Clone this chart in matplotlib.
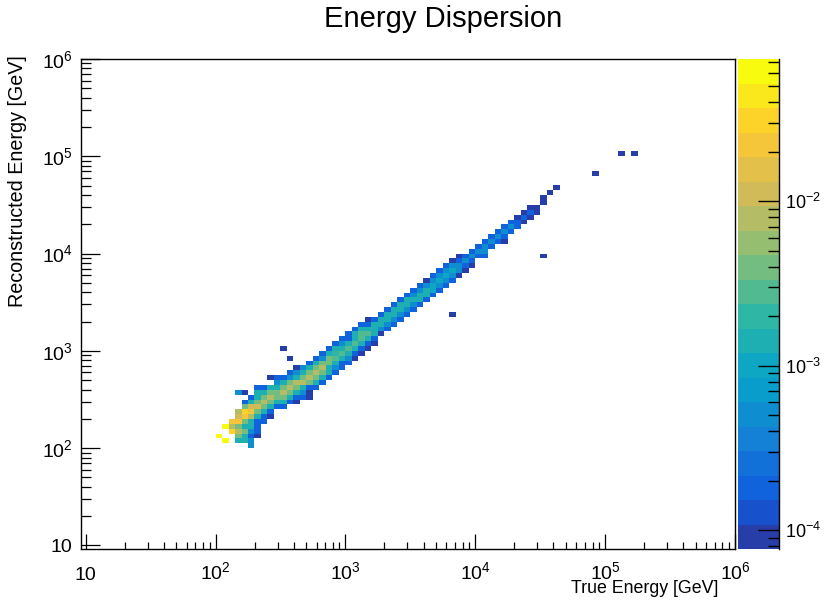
import numpy as np
import matplotlib
matplotlib.use("Agg")
import matplotlib.pyplot as plt
from matplotlib.colors import LogNorm, ListedColormap
from matplotlib.ticker import FixedLocator, FuncFormatter, NullFormatter

plt.rcParams['font.family'] = ['Liberation Sans', 'DejaVu Sans']
plt.rcParams['mathtext.fontset'] = 'custom'
plt.rcParams['mathtext.rm'] = 'Liberation Sans'
plt.rcParams['mathtext.default'] = 'regular'

# binning: 20 log bins per decade between 10 GeV and 1 PeV
n_bins = 100
edges = np.logspace(1, 6, n_bins + 1)
z_min, z_max = 7.7e-5, 7.3e-2

# diagonal band, one entry per true-energy bin:
# top reco bin and the cell contents going down (units of 1e-4)
band_x = list(range(20, 73))
band_top = [22, 24, 25, 31, 31, 30, 32, 32, 34, 34,
            40, 38, 36, 36, 37, 38, 39, 40, 41, 42,
            43, 44, 45, 46, 46, 47, 48, 49, 50, 51,
            52, 53, 54, 55, 56, 57, 58, 59, 59, 60,
            61, 62, 63, 64, 65, 66, 67, 68, 69, 69,
            71, 72, 73]
band_vals = [
    [600],
    [600, 0, 0, 600],
    [200, 80, 300],
    [4.5, 0, 0, 0, 80, 120, 200, 35, 80, 35, 13],
    [0.9, 0, 1.7, 35, 300, 200, 35, 13, 35, 13, 13],
    [1.7, 13, 120, 200, 80, 13, 13, 4.5, 1.7, 4.5, 4.5],
    [1.7, 13, 13, 35, 120, 35, 13, 1.7, 1.7, 1.7, 0.9],
    [1.7, 13, 35, 80, 35, 13, 1.7, 1.7],
    [0.9, 0, 13, 35, 80, 35, 13, 1.7, 0.9],
    [1.7, 4.5, 13, 35, 35, 13, 1.7],
    [0.9, 0, 0, 0, 0, 0, 1.7, 13, 35, 80, 35, 13, 1.7],
    [0.9, 0, 0, 1.7, 4.5, 35, 80, 35, 13, 1.7],
    [0.9, 4.5, 13, 80, 35, 13, 1.7, 0.9],
    [4.5, 13, 35, 80, 13, 4.5, 1.7],
    [1.7, 13, 35, 80, 35, 1.7, 0.9, 0.9],
    [1.7, 13, 35, 80, 35, 13, 1.7],
    [1.7, 4.5, 35, 80, 35, 13, 1.7],
    [1.7, 13, 35, 35, 13, 13, 1.7],
    [1.7, 13, 20, 25, 13, 4.5, 1.7],
    [1.7, 4.5, 13, 30, 13, 1.7, 1.7],
    [1.7, 1.7, 13, 30, 13, 4.5, 1.7],
    [1.7, 13, 13, 30, 13, 1.7, 0.9],
    [1.7, 13, 30, 30, 13, 1.7, 0.9],
    [0.9, 1.7, 13, 30, 13, 1.7, 0.9],
    [1.7, 13, 13, 13, 1.7, 0.9],
    [1.7, 13, 13, 4.5, 0.9],
    [1.7, 13, 13, 4.5, 1.7],
    [1.7, 13, 13, 4.5, 1.7],
    [1.7, 13, 13, 4.5, 1.7],
    [1.7, 13, 13, 4.5, 1.7],
    [1.7, 4.5, 13, 4.5, 1.7],
    [1.7, 4.5, 13, 13, 1.7],
    [0.9, 4.5, 13, 13, 1.7],
    [1.7, 4.5, 9, 9, 1.7],
    [1.7, 4.5, 9, 4.5, 1.7],
    [1.7, 4.5, 9, 4.5, 1.7],
    [0.9, 4.5, 9, 4.5, 1.7],
    [0.9, 1.7, 4.5, 4.5, 0.9],
    [1.7, 4.5, 1.7, 0.9],
    [1.7, 4.5, 1.7, 0.9],
    [1.7, 4.5, 1.7],
    [1.7, 4.5, 4.5, 1.7],
    [1.7, 4.5, 1.7],
    [1.7, 4.5, 1.7],
    [1.7, 4.5, 1.7, 0.9],
    [1.7, 4.5, 1.7],
    [0.9, 1.7, 1.7],
    [0.9, 1.7, 0.9],
    [0.9, 1.7, 0.9],
    [0.9, 0.9],
    [0.9, 0.9],
    [0.9],
    [0.9],
]

# isolated cells away from the band
stray_x = [23, 24, 28, 30, 31, 56, 70, 78, 82, 84]
stray_y = [31, 31, 34, 40, 38, 47, 59, 76, 80, 80]
stray_vals = [4.5, 0.9, 0.9, 0.9, 0.9, 0.9, 0.9, 0.9, 0.9, 0.9]

# ROOT kBird palette
bird_stops = [0.0, 0.125, 0.25, 0.375, 0.5, 0.625, 0.75, 0.875, 1.0]
bird_r = [0.2082, 0.0592, 0.0780, 0.0232, 0.1802, 0.5301, 0.8186, 0.9956, 0.9764]
bird_g = [0.1664, 0.3599, 0.5041, 0.6419, 0.7178, 0.7492, 0.7328, 0.7862, 0.9832]
bird_b = [0.5293, 0.8684, 0.8385, 0.7914, 0.6425, 0.4662, 0.3499, 0.1968, 0.0539]
n_cont = 20
t = np.floor((np.arange(n_cont) + 0.99) * 255 / n_cont) / 254
band_colors = np.column_stack([np.interp(t, bird_stops, c) for c in (bird_r, bird_g, bird_b)])
cmap = ListedColormap(band_colors)

H = np.zeros((n_bins, n_bins))
for x, top, vals in zip(band_x, band_top, band_vals):
    for k, v in enumerate(vals):
        H[x, top - k] = v * 1e-4
for x, y, v in zip(stray_x, stray_y, stray_vals):
    H[x, y] = v * 1e-4
H = np.ma.masked_equal(H.T, 0)

W, Hpx = 826, 601
fig = plt.figure(figsize=(W / 100, Hpx / 100), dpi=100)
ax = fig.add_axes([81 / W, 1 - 549 / Hpx, (735 - 81) / W, (549 - 59) / Hpx])
cax = fig.add_axes([738 / W, 1 - 549 / Hpx, (779 - 738) / W, (549 - 59) / Hpx])

mesh = ax.pcolormesh(edges, edges, H, cmap=cmap, norm=LogNorm(z_min, z_max),
                     edgecolors='face', linewidth=0, antialiased=False)
ax.set_xscale('log')
ax.set_yscale('log')
ax.set_xlim(10 ** 0.964, 1e6)
ax.set_ylim(10 ** 0.964, 1e6)


def decade_label(v, pos):
    n = int(round(np.log10(v)))
    return '10' if n == 1 else r'$10^{%d}$' % n


decades = [10.0 ** n for n in range(1, 7)]
minors = [m * 10.0 ** n for n in range(0, 6) for m in range(2, 10)]
for axis in (ax.xaxis, ax.yaxis):
    axis.set_major_locator(FixedLocator(decades))
    axis.set_minor_locator(FixedLocator(minors))
    axis.set_major_formatter(FuncFormatter(decade_label))
    axis.set_minor_formatter(NullFormatter())

ax.tick_params(axis='x', which='major', direction='in', length=10.6, width=0.9,
               labelsize=14, pad=22, top=False)
ax.tick_params(axis='x', which='minor', direction='in', length=5.3, width=0.9, top=False)
ax.tick_params(axis='y', which='major', direction='in', length=14, width=0.9,
               labelsize=14, pad=6, right=False)
ax.tick_params(axis='y', which='minor', direction='in', length=7, width=0.9, right=False)
for lab in ax.get_xticklabels():
    lab.set_verticalalignment('baseline')
for sp in ax.spines.values():
    sp.set_linewidth(1.0)

cbar = fig.colorbar(mesh, cax=cax)
cbar.outline.set_visible(False)
cax.plot([1, 1], [0, 1], transform=cax.transAxes, color='black', lw=1.0, clip_on=False)
cax.yaxis.set_major_locator(FixedLocator([1e-4, 1e-3, 1e-2]))
cax.yaxis.set_minor_locator(FixedLocator([m * 10.0 ** n for n in (-5, -4, -3, -2) for m in range(2, 10)]))
cax.yaxis.set_major_formatter(FuncFormatter(lambda v, p: r'$10^{%d}$' % int(round(np.log10(v)))))
cax.yaxis.set_minor_formatter(NullFormatter())
cax.tick_params(which='major', direction='in', length=15, width=1.0, labelsize=13, pad=4)
cax.tick_params(which='minor', direction='in', length=8, width=1.0)

fig.text(443 / W, 1 - 27 / Hpx, 'Energy Dispersion', ha='center', va='baseline', fontsize=21)
fig.text(718 / W, 1 - 593 / Hpx, 'True Energy [GeV]', ha='right', va='baseline', fontsize=12.8)
fig.text(18 / W, 1 - 55 / Hpx, 'Reconstructed Energy [GeV]', ha='center', va='top',
         rotation=90, fontsize=14.2)

fig.savefig('out.png', dpi=100)
